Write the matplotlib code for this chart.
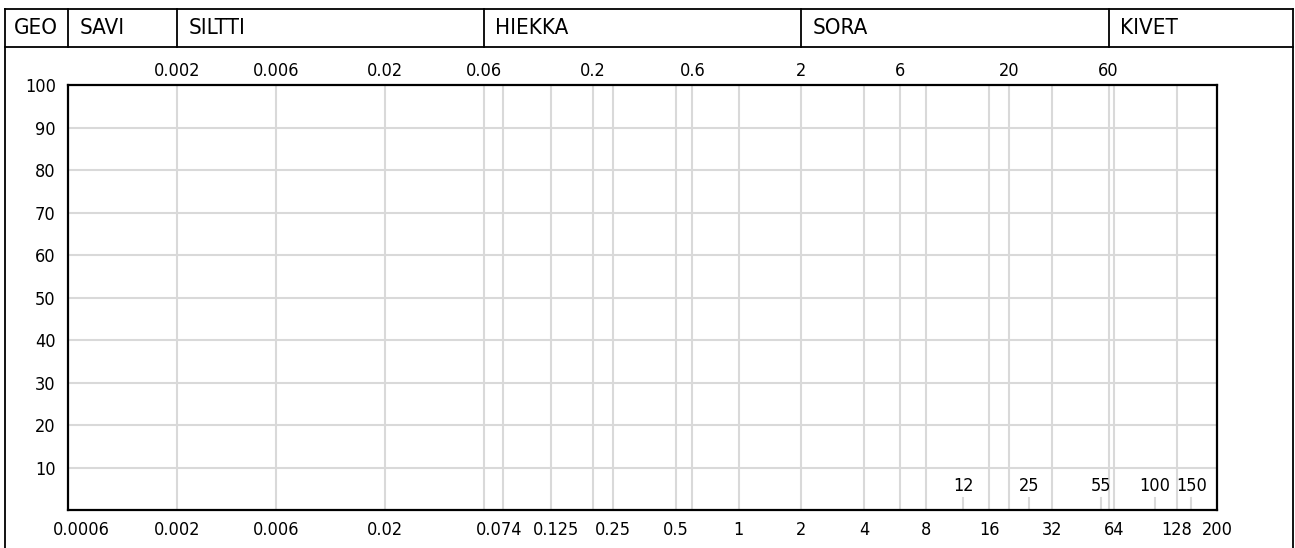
import matplotlib.pyplot as plt
import matplotlib.transforms as mtrans
from matplotlib.transforms import blended_transform_factory

# ---------- data ----------
soil_names = ["GEO", "SAVI", "SILTTI", "HIEKKA", "SORA", "KIVET"]
soil_bounds = [0.0006, 0.002, 0.06, 2, 60]          # left edge of SAVI..KIVET

bottom_ticks = [0.0006, 0.002, 0.006, 0.02, 0.074, 0.125, 0.25, 0.5, 1,
                2, 4, 8, 16, 32, 64, 128, 200]
bottom_labels = ["0.0006", "0.002", "0.006", "0.02", "0.074", "0.125", "0.25",
                 "0.5", "1", "2", "4", "8", "16", "32", "64", "128", "200"]
top_ticks = [0.002, 0.006, 0.02, 0.06, 0.2, 0.6, 2, 6, 20, 60]
top_labels = ["0.002", "0.006", "0.02", "0.06", "0.2", "0.6", "2", "6", "20", "60"]
inner_ticks = [12, 25, 55, 100, 150]
inner_labels = ["12", "25", "55", "100", "150"]
grid_x = [0.002, 0.006, 0.02, 0.06, 0.074, 0.125, 0.2, 0.25, 0.5, 0.6, 1,
          2, 4, 6, 8, 16, 20, 32, 60, 64, 128]
y_ticks = [10, 20, 30, 40, 50, 60, 70, 80, 90, 100]

GRID = "#d9d9d9"
FONT = dict(family="DejaVu Sans", fontstretch="condensed")
NUM_SIZE = 13
HEAD_SIZE = 16

W, H = 1295, 548
fig = plt.figure(figsize=(W / 100, H / 100), dpi=100)
# plot box in pixels: x 68..1217, y 85..510
ax = fig.add_axes([68.3 / W, (H - 510.3) / H, 1149 / W, 425 / H])
ax.set_xscale("log")
ax.set_xlim(0.0006, 200)
ax.set_ylim(0, 100)

# ---------- grid ----------
for x in grid_x:
    ax.axvline(x, color=GRID, lw=1.5, zorder=1)
for y in y_ticks[:-1]:
    ax.axhline(y, color=GRID, lw=1.5, zorder=1)

for s in ax.spines.values():
    s.set_linewidth(1.6)
    s.set_color("black")

# ---------- ticks ----------
ax.minorticks_off()
ax.set_xticks(bottom_ticks)
ax.set_xticklabels(bottom_labels, fontsize=NUM_SIZE, **FONT)
ax.tick_params(axis="x", length=0, pad=8)
ax.set_yticks(y_ticks)
ax.set_yticklabels([str(v) for v in y_ticks], fontsize=NUM_SIZE, **FONT)
ax.tick_params(axis="y", length=0, pad=9)

# nudge a few crowded bottom labels (pixels)
nudges = {"0.0006": 13, "0.074": -4, "0.125": 5}
for lbl in ax.xaxis.get_majorticklabels():
    dx = nudges.get(lbl.get_text())
    if dx:
        lbl.set_transform(lbl.get_transform() + mtrans.ScaledTranslation(dx / 100, 0, fig.dpi_scale_trans))

top = ax.secondary_xaxis("top")
top.set_xticks(top_ticks)
top.set_xticklabels(top_labels, fontsize=NUM_SIZE, **FONT)
top.tick_params(axis="x", length=0, pad=4)
top.minorticks_off()
top.spines["top"].set_visible(False)

# inner short ticks with labels
for x, lab in zip(inner_ticks, inner_labels):
    ax.plot([x, x], [0, 2.8], color=GRID, lw=1.5, zorder=1)
    ax.text(x, 5.7, lab, ha="center", va="center", fontsize=NUM_SIZE, **FONT)

# ---------- header table ----------
tr = blended_transform_factory(ax.transData, fig.transFigure)
y_top = 1 - 9 / H
y_mid = 1 - 46.7 / H
x_left = 5.3 / W
x_right = 1293.3 / W
fig.add_artist(plt.Line2D([x_left, x_right], [y_top, y_top], color="black", lw=1.3))
fig.add_artist(plt.Line2D([x_left, x_right], [y_mid, y_mid], color="black", lw=1.3))
fig.add_artist(plt.Line2D([x_left, x_left], [0, y_top], color="black", lw=1.3))
fig.add_artist(plt.Line2D([x_right, x_right], [0, y_top], color="black", lw=1.3))
for b in soil_bounds:
    ax.plot([b, b], [y_mid, y_top], color="black", lw=1.3, transform=tr, clip_on=False)

fig.text(x_left + 9 / W, (y_top + y_mid) / 2, soil_names[0], ha="left", va="center",
         fontsize=HEAD_SIZE, **FONT)
for b, name in zip(soil_bounds, soil_names[1:]):
    ax.annotate(name, xy=(b, (y_top + y_mid) / 2), xycoords=tr, xytext=(8, 0),
                textcoords="offset points", ha="left", va="center",
                fontsize=HEAD_SIZE, annotation_clip=False, **FONT)

fig.savefig("out.png", dpi=100)
